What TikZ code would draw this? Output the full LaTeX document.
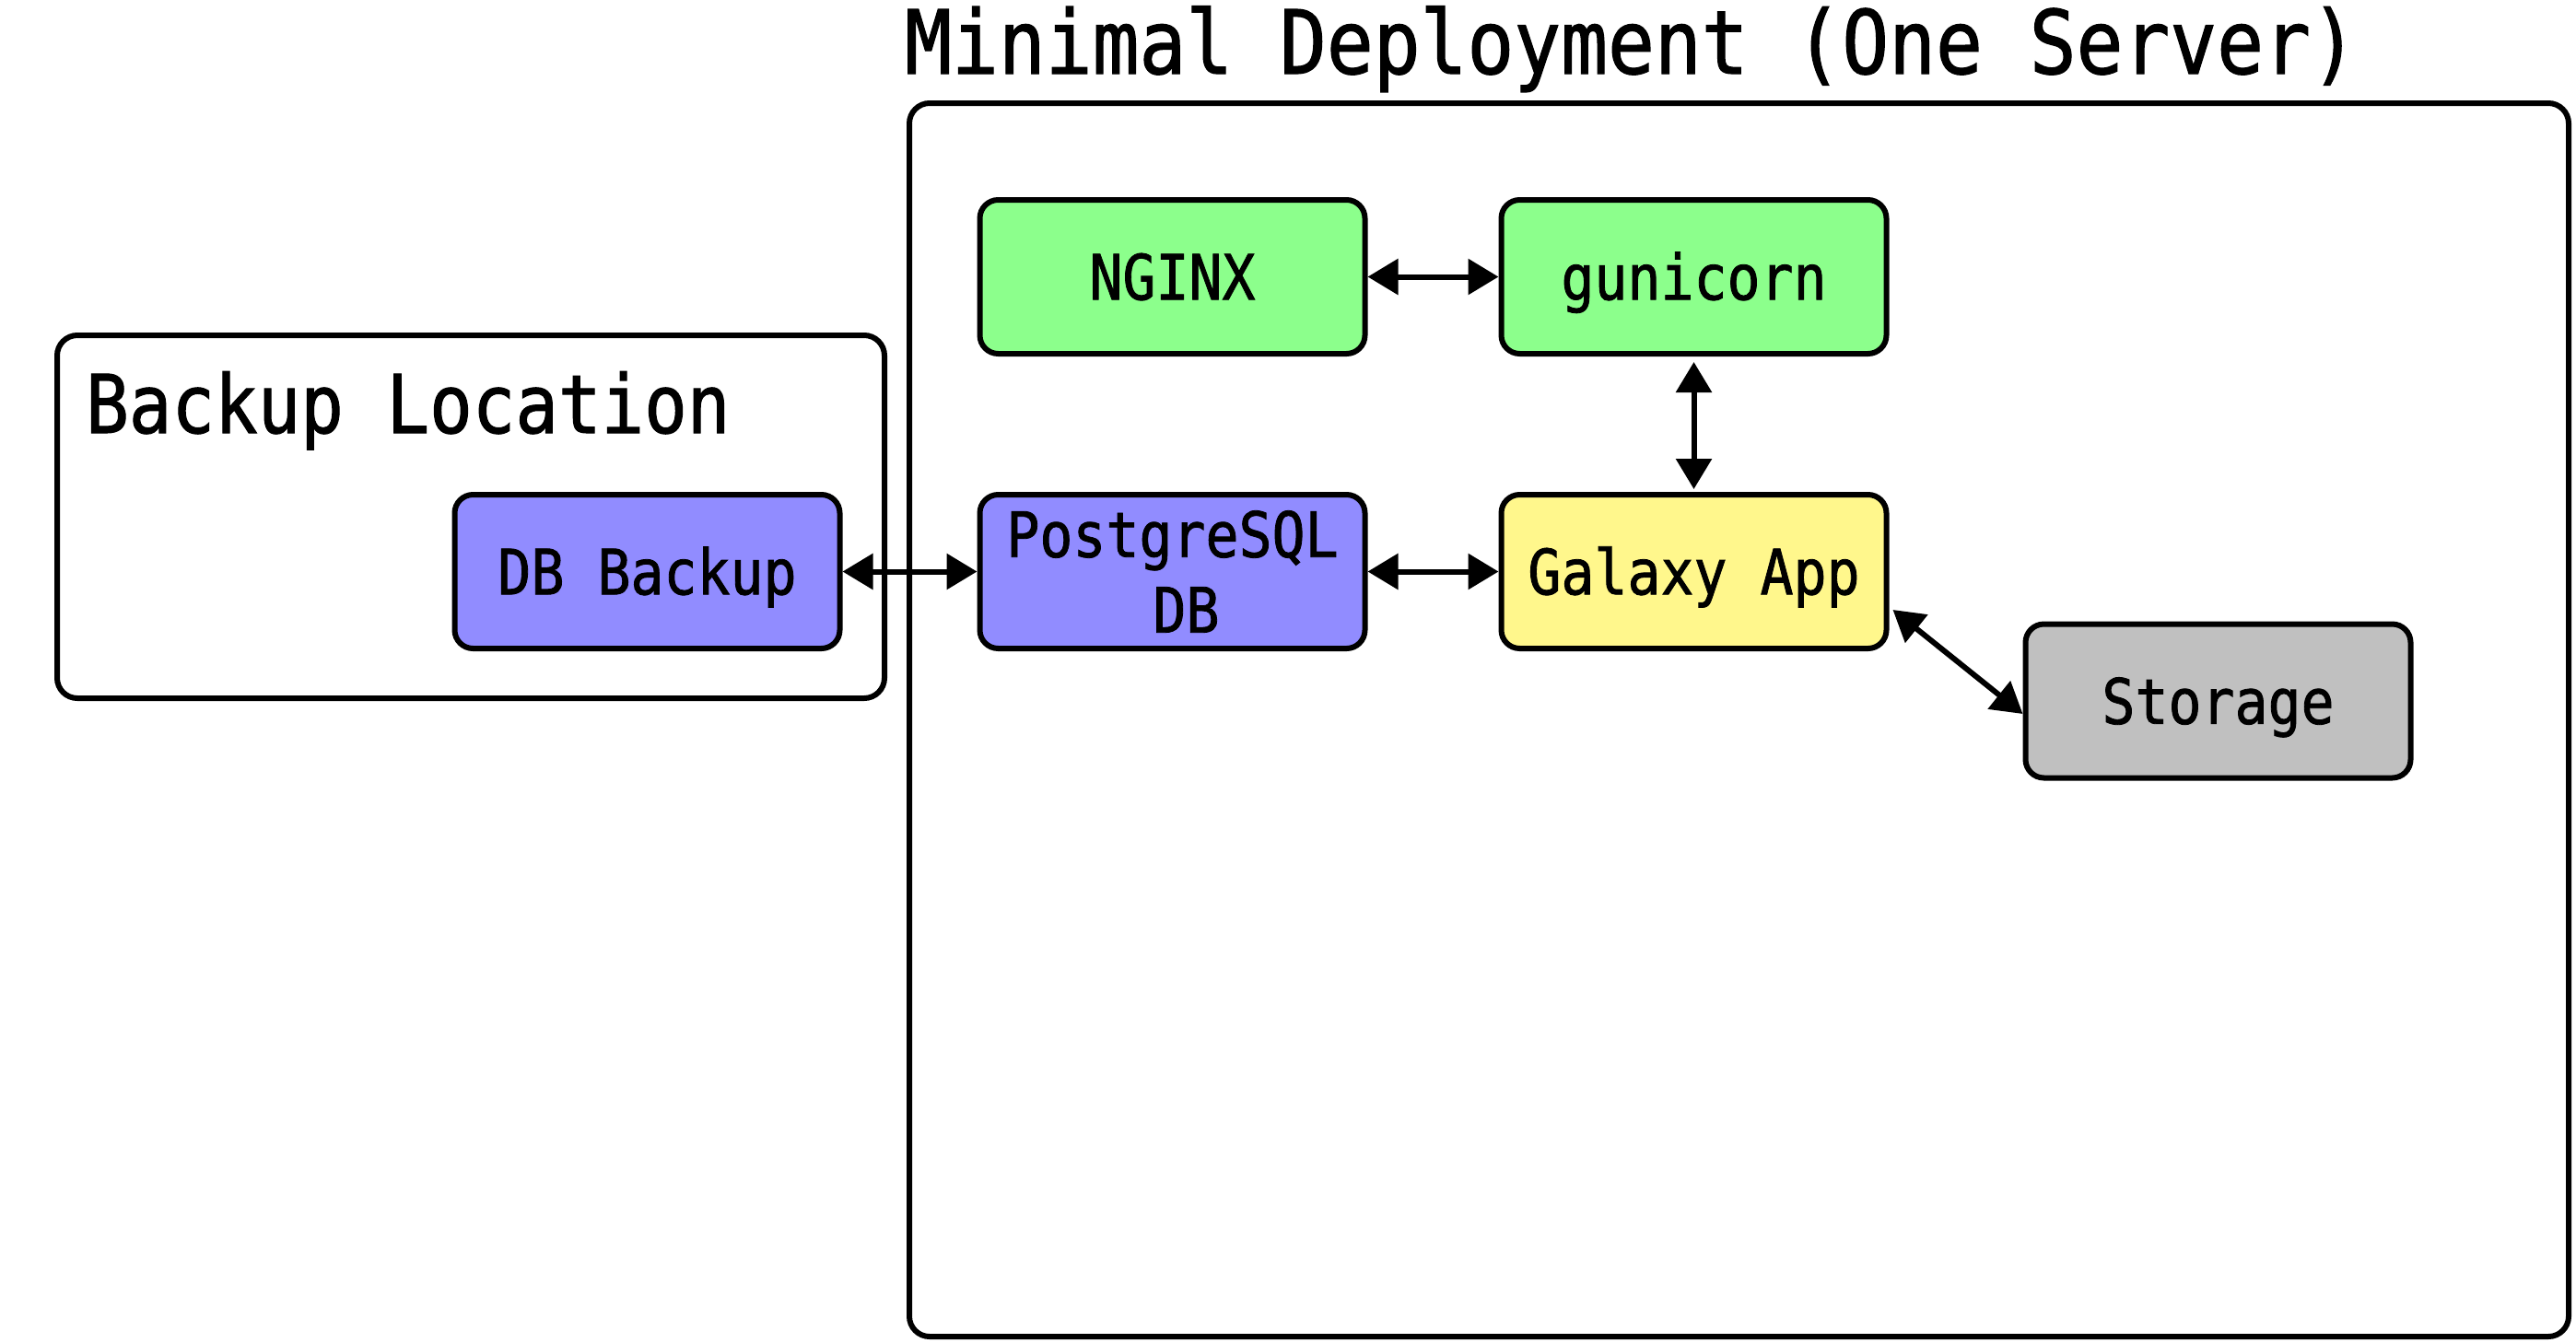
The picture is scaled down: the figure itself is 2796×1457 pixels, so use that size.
\documentclass[tikz,border=0pt]{standalone}
\usepackage{fontspec}
\newfontfamily\comic{DejaVu Sans Mono}[FakeStretch=0.88, FakeBold=1.2]
\usetikzlibrary{arrows.meta}
\definecolor{nodegreen}{RGB}{140,255,140}
\definecolor{nodeblue}{RGB}{145,140,255}
\definecolor{nodeyellow}{RGB}{255,247,140}
\definecolor{nodegray}{RGB}{192,192,192}
\begin{document}
\begin{tikzpicture}[x=1pt,y=-1pt,
  frame/.style={draw=black, line width=6pt, rounded corners=22pt, fill=white, inner sep=0pt},
  svc/.style={draw=black, line width=6pt, rounded corners=20pt, minimum width=418pt,
    minimum height=167pt, inner sep=0pt, font=\comic\fontsize{68}{82}\selectfont, align=center},
  oneline/.style={text height=49.6pt, text depth=0pt},
  heading/.style={inner sep=0pt, anchor=base west},
  arr/.style={line width=6pt, {Triangle[length=33pt,width=38pt]}-{Triangle[length=33pt,width=38pt]}},
]
\useasboundingbox (0,0) rectangle (2796,1457);

% frames
\node[frame, minimum width=898pt, minimum height=394pt] (backupframe) at (511,561) {};
\node[frame, minimum width=1801pt, minimum height=1339pt] (serverframe) at (1887.5,781.5) {};

% headings
\node[heading, font=\comic\fontsize{96}{110}\selectfont] (title) at (982,80) {Minimal Deployment (One Server)};
\node[heading, font=\comic\fontsize{88}{100}\selectfont] (backuptitle) at (93,470) {Backup Location};

% services
\node[svc, oneline, fill=nodegreen] (nginx) at (1272.5,300.5) {NGINX};
\node[svc, oneline, fill=nodegreen] (gunicorn) at (1838.5,300.5) {gunicorn};
\node[svc, fill=nodeblue] (pg) at (1272.5,620.5) {PostgreSQL\\\hspace*{30pt}DB};
\node[svc, oneline, fill=nodeyellow] (galaxy) at (1838.5,620.5) {Galaxy App};
\node[svc, oneline, fill=nodeblue] (dbbackup) at (702.5,620.5) {DB Backup};
\node[svc, oneline, fill=nodegray] (storage) at (2407.5,761) {Storage};

% connectors
\draw[arr] (dbbackup.east) -- (pg.west);
\draw[arr] (pg.east) -- (galaxy.west);
\draw[arr] (nginx.east) -- (gunicorn.west);
\draw[arr] ([yshift=-6pt]gunicorn.south) -- ([yshift=3pt]galaxy.north);
\draw[arr] ([xshift=4pt,yshift=-41.5pt]galaxy.east) -- ([yshift=-14pt]storage.west);
\end{tikzpicture}
\end{document}
